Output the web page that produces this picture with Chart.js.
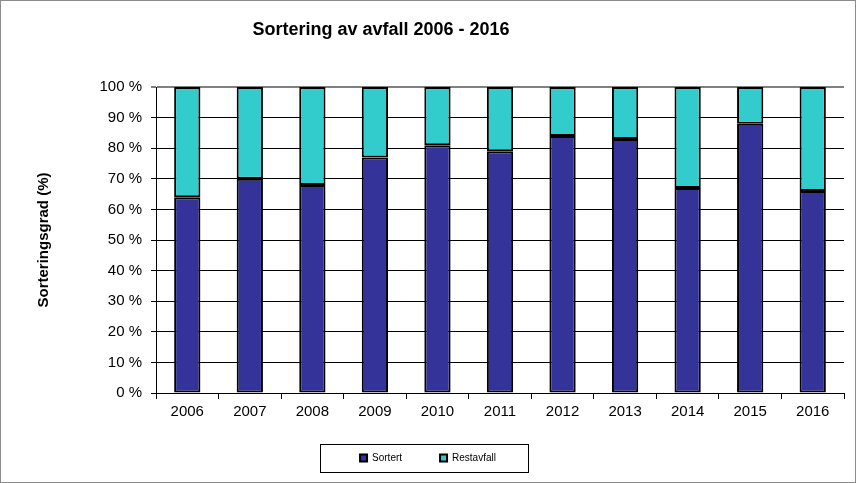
<!DOCTYPE html>
<html>
<head>
<meta charset="utf-8">
<script src="https://cdn.jsdelivr.net/npm/chart.js@4"></script>
<style>
  body { margin: 0; background: #fff; }
  #wrap { width: 856px; height: 483px; }
</style>
</head>
<body>
<div id="wrap"><canvas id="sortChart" width="856" height="483"></canvas></div>
<script>
const years = ["2006", "2007", "2008", "2009", "2010", "2011", "2012", "2013", "2014", "2015", "2016"];
const sortert = [64, 70, 68, 77, 81, 79, 84, 83, 67, 88, 66];
const restavfall = [36, 30, 32, 23, 19, 21, 16, 17, 33, 12, 34];
const titleText = "Sortering av avfall 2006 - 2016";
const yTitle = "Sorteringsgrad (%)";

const FONT = "'Liberation Sans', Arial, sans-serif";

const framePlugin = {
  id: "frame",
  afterLayout(chart) {
    // let the x labels draw below the shortened axis box
    chart.scales.x.bottom += 14;
  },
  afterDraw(chart) {
    const ctx = chart.ctx;
    ctx.save();
    // outer frame
    ctx.strokeStyle = "#8c8c8c";
    ctx.lineWidth = 1;
    ctx.strokeRect(0.5, 0.5, chart.width - 1, chart.height - 1);
    // title, placed left of centre like the original
    ctx.fillStyle = "#000";
    ctx.font = "bold 18px " + FONT;
    ctx.textAlign = "center";
    ctx.textBaseline = "middle";
    ctx.fillText(titleText, 381, 30);
    // legend box
    const hb = chart.legend.legendHitBoxes[0];
    const cy = hb.top + hb.height / 2;
    ctx.strokeStyle = "#000";
    ctx.strokeRect(320.5, Math.round(cy - 14) + 0.5, 208, 28);
    ctx.restore();
  },
};

const config = {
  type: "bar",
  data: {
    labels: years,
    datasets: [
      {
        label: "Sortert",
        data: sortert,
        backgroundColor: "#333399",
        borderColor: "#000",
        borderWidth: 2,
        borderSkipped: false,
      },
      {
        label: "Restavfall",
        data: restavfall,
        backgroundColor: "#33cccc",
        borderColor: "#000",
        borderWidth: 2,
        borderSkipped: false,
      },
    ],
  },
  options: {
    responsive: false,
    animation: false,
    barPercentage: 1,
    categoryPercentage: 0.42,
    layout: { padding: { top: 87, left: 12, right: 12, bottom: 10 } },
    plugins: {
      title: { display: false },
      tooltip: { enabled: false },
      legend: {
        position: "bottom",
        labels: {
          color: "#000",
          boxWidth: 7,
          boxHeight: 7,
          padding: 38,
          font: { size: 10, family: FONT },
        },
      },
    },
    scales: {
      x: {
        stacked: true,
        offset: true,
        afterFit: (scale) => {
          scale.height -= 10;
        },
        grid: {
          offset: true,
          drawOnChartArea: false,
          color: "#000",
          tickLength: 6,
        },
        border: { color: "#000", width: 1 },
        ticks: { color: "#000", font: { size: 15, family: FONT }, padding: 4 },
      },
      y: {
        stacked: true,
        min: 0,
        max: 100,
        afterFit: (scale) => {
          scale.width = 144;
        },
        grid: {
          color: (c) => (c.tick && c.tick.value === 100 ? "#808080" : "#000"),
          lineWidth: (c) => (c.tick && c.tick.value === 100 ? 2 : 1),
          tickLength: 5,
        },
        border: { color: "#000", width: 1 },
        ticks: {
          stepSize: 10,
          color: "#000",
          padding: 9,
          font: { size: 15, family: FONT },
          callback: (v) => v + " %",
        },
        title: {
          display: true,
          text: yTitle,
          color: "#000",
          font: { size: 15, weight: "bold", family: FONT },
          padding: { top: 23, bottom: 0 },
        },
      },
    },
  },
  plugins: [framePlugin],
};

new Chart(document.getElementById("sortChart"), config);
</script>
</body>
</html>
